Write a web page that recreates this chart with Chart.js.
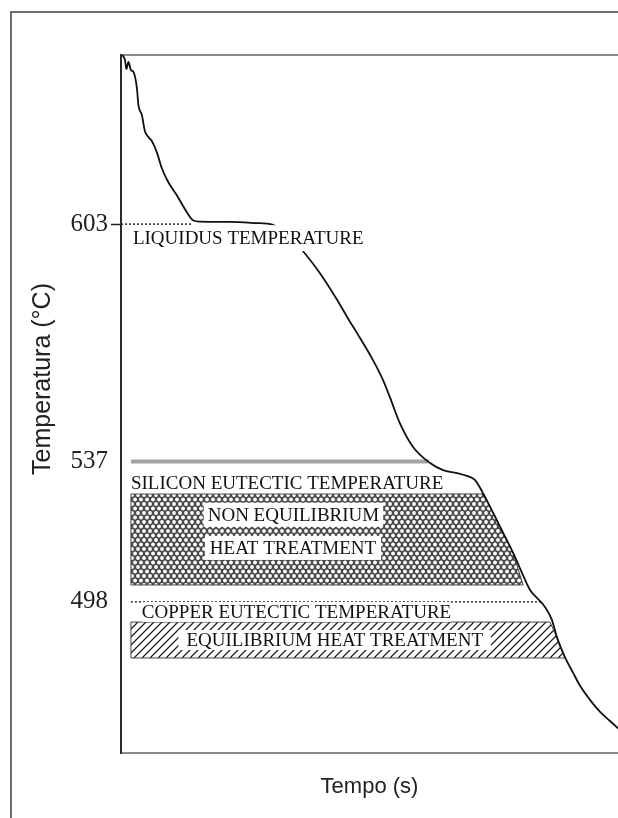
<!DOCTYPE html>
<html>
<head>
<meta charset="utf-8">
<script src="https://cdn.jsdelivr.net/npm/chart.js@4.4.1/dist/chart.umd.min.js"></script>
<style>
  html, body { margin: 0; padding: 0; background: #fff; overflow: hidden; }
  .moldura { position: absolute; left: 10px; top: 11px; width: 700px; height: 900px;
             border-left: 2px solid #6e6e6e; border-top: 2px solid #6e6e6e; }
  .grafico { position: absolute; left: 0; top: 0; width: 618px; height: 818px; }
</style>
</head>
<body>
<div class="moldura"></div>
<div class="grafico"><canvas id="curvaResfriamento"></canvas></div>
<script>
// Curva de resfriamento (tempo em unidades arbitrárias, temperatura em °C)
const tempo = [0.3, 0.8, 1.1, 1.5, 2.0, 2.5, 3.2, 3.5, 4.2, 4.8, 5.5, 6.2, 7.2, 8.2, 9.5, 11.2, 13.2, 14.5, 15.9,
  21.9, 27.0, 30.6, 33.0, 35.0, 36.4, 40.0, 43.5, 46.1, 47.5, 50.7, 52.7, 54.1, 56.1, 58.8, 62.2, 64.8, 67.6,
  69.6, 71.2, 72.8, 74.9, 76.9, 78.9, 80.7, 82.3, 83.7, 85.3, 86.7, 87.7, 89.3, 91.0, 92.4, 94.4, 96.4, 98.4, 100.4];
const temperatura = [650.0, 648.6, 646.1, 648.1, 645.8, 645.3, 640.8, 636.1, 633.3, 628.9, 627.2, 626.1, 623.0, 618.6,
  614.7, 611.1, 606.4, 604.1, 603.7, 603.6, 603.3, 602.8, 600.5, 597.7, 595.8, 589.4, 581.9, 575.8, 572.7, 565.2,
  559.7, 554.9, 547.7, 541.0, 536.6, 534.6, 533.8, 533.0, 531.9, 528.3, 522.7, 517.2, 511.6, 506.0, 501.3, 499.1,
  496.6, 493.0, 488.2, 482.7, 478.2, 474.6, 470.7, 467.4, 464.9, 462.4];

// Temperaturas marcadas no eixo
const yTicks = [498, 537, 603];

// Linhas de referência: liquidus, eutético do silício, eutético do cobre
const nivelTemp = [603, 537, 498];
const nivelInicio = [0, 2.0, 2.0];
const nivelFim = [14.3, 61.9, 84.4];

// Faixa de tratamento fora do equilíbrio (entre os eutéticos)
const naoEqTempo = [2.0, 73.0, 76.3, 78.9, 80.9, 2.0, 2.0];
const naoEqTemp = [528.0, 528.0, 518.8, 511.6, 502.7, 502.7, 528.0];

// Faixa de tratamento de equilíbrio (abaixo do eutético do cobre)
const eqTempo = [2.0, 86.3, 87.7, 89.3, 2.0, 2.0];
const eqTemp = [492.4, 492.4, 488.2, 482.4, 482.4, 492.4];

// Textos dentro do gráfico
const rotulos = [
  { texto: 'LIQUIDUS TEMPERATURE', t: 2.4, temp: 599.1, alinha: 'left', padX: 2, padY: 3 },
  { texto: 'SILICON EUTECTIC TEMPERATURE', t: 2.0, temp: 531.0, alinha: 'left', padX: 0, padY: 0 },
  { texto: 'NON EQUILIBRIUM', t: 34.7, temp: 522.2, alinha: 'center', padX: 4, padY: 2 },
  { texto: 'HEAT TREATMENT', t: 34.6, temp: 513.0, alinha: 'center', padX: 5, padY: 2 },
  { texto: 'COPPER EUTECTIC TEMPERATURE', t: 4.2, temp: 495.2, alinha: 'left', padX: 0, padY: 0 },
  { texto: 'EQUILIBRIUM HEAT TREATMENT', t: 43.0, temp: 487.4, alinha: 'center', padX: 8, padY: 0 }
];

function pontos(xs, ys) {
  return xs.map(function (x, i) { return { x: x, y: ys[i] }; });
}

function linhaNivel(i) {
  return [{ x: nivelInicio[i], y: nivelTemp[i] }, { x: nivelFim[i], y: nivelTemp[i] }];
}

// Padrão de malha (fundo cinza com pontos brancos alternados)
function padraoMalha() {
  const c = document.createElement('canvas');
  c.width = 6; c.height = 9;
  const g = c.getContext('2d');
  g.fillStyle = '#4a4a4a';
  g.fillRect(0, 0, 6, 9);
  g.fillStyle = '#fff';
  [[3, 4.5], [0, 0], [6, 0], [0, 9], [6, 9]].forEach(function (p) {
    g.beginPath();
    g.arc(p[0], p[1], 1.9, 0, Math.PI * 2);
    g.fill();
  });
  return g.createPattern(c, 'repeat');
}

// Padrão de hachura diagonal
function padraoHachura() {
  const c = document.createElement('canvas');
  c.width = 8; c.height = 8;
  const g = c.getContext('2d');
  g.fillStyle = '#fff';
  g.fillRect(0, 0, 8, 8);
  g.strokeStyle = '#222';
  g.lineWidth = 1.3;
  g.beginPath();
  g.moveTo(0, 8); g.lineTo(8, 0);
  g.moveTo(-2, 2); g.lineTo(2, -2);
  g.moveTo(6, 10); g.lineTo(10, 6);
  g.stroke();
  return g.createPattern(c, 'repeat');
}

// Escreve os textos com fundo branco e o título do eixo y
const notas = {
  id: 'notas',
  afterDatasetsDraw: function (chart) {
    const ctx = chart.ctx;
    const x = chart.scales.x;
    const y = chart.scales.y;
    ctx.save();
    ctx.font = '19px "Liberation Serif"';
    ctx.textBaseline = 'middle';
    ctx.textAlign = 'left';
    rotulos.forEach(function (r) {
      const w = ctx.measureText(r.texto).width;
      let px = x.getPixelForValue(r.t);
      if (r.alinha === 'center') px -= w / 2;
      const py = y.getPixelForValue(r.temp);
      ctx.fillStyle = '#fff';
      ctx.fillRect(px - r.padX, py - 10 - r.padY, w + 2 * r.padX, 20 + 2 * r.padY);
      ctx.fillStyle = '#111';
      ctx.fillText(r.texto, px, py + 1);
    });

    ctx.translate(43, 379);
    ctx.rotate(-Math.PI / 2);
    ctx.font = '25px "Liberation Sans"';
    ctx.textAlign = 'center';
    ctx.fillStyle = '#222';
    ctx.fillText('Temperatura (°C)', 0, 0);
    ctx.restore();
  }
};

const ctx = document.getElementById('curvaResfriamento').getContext('2d');

const grafico = new Chart(ctx, {
  type: 'line',
  data: {
    datasets: [{
      label: 'Curva de resfriamento',
      data: pontos(tempo, temperatura),
      borderColor: '#111',
      borderWidth: 1.8,
      pointRadius: 0,
      cubicInterpolationMode: 'monotone',
      fill: false
    }, {
      label: 'Liquidus',
      data: linhaNivel(0),
      borderColor: '#222',
      borderWidth: 1.5,
      borderDash: [2, 2],
      pointRadius: 0,
      fill: false
    }, {
      label: 'Eutético do silício',
      data: linhaNivel(1),
      borderColor: '#a3a3a3',
      borderWidth: 4,
      pointRadius: 0,
      fill: false
    }, {
      label: 'Eutético do cobre',
      data: linhaNivel(2),
      borderColor: '#333',
      borderWidth: 1.5,
      borderDash: [2, 2],
      pointRadius: 0,
      fill: false
    }, {
      label: 'Tratamento fora do equilíbrio',
      data: pontos(naoEqTempo, naoEqTemp),
      borderColor: '#444',
      borderWidth: 1,
      backgroundColor: padraoMalha(),
      pointRadius: 0,
      tension: 0,
      fill: 'shape'
    }, {
      label: 'Tratamento de equilíbrio',
      data: pontos(eqTempo, eqTemp),
      borderColor: '#444',
      borderWidth: 1,
      backgroundColor: padraoHachura(),
      pointRadius: 0,
      tension: 0,
      fill: 'shape'
    }]
  },
  options: {
    responsive: true,
    maintainAspectRatio: false,
    animation: false,
    layout: { padding: { top: 55, left: 0, right: 0, bottom: 0 } },
    plugins: {
      legend: { display: false },
      tooltip: { enabled: false }
    },
    scales: {
      x: {
        type: 'linear',
        position: 'bottom',
        min: 0,
        max: 100,
        ticks: { display: false },
        grid: { display: false },
        border: { color: '#8a8a8a', width: 2 },
        title: {
          display: true,
          text: 'Tempo (s)',
          color: '#222',
          font: { family: 'Liberation Sans', size: 22 },
          padding: { top: 0, bottom: 18 }
        },
        afterFit: function (s) { s.height = 65; }
      },
      topo: {
        type: 'linear',
        position: 'top',
        min: 0,
        max: 100,
        ticks: { display: false },
        grid: { display: false },
        border: { color: '#8a8a8a', width: 2 },
        afterFit: function (s) { s.height = 0; }
      },
      y: {
        type: 'linear',
        position: 'left',
        min: 456,
        max: 650,
        afterBuildTicks: function (s) {
          s.ticks = yTicks.map(function (v) { return { value: v }; });
        },
        ticks: {
          color: '#222',
          padding: 3,
          font: { family: 'Liberation Serif', size: 25 },
          callback: function (v) { return String(v); }
        },
        grid: {
          drawOnChartArea: false,
          drawTicks: true,
          tickLength: 10,
          tickWidth: 1.5,
          tickColor: function (c) {
            return c.tick && c.tick.value === 603 ? '#222' : 'rgba(0,0,0,0)';
          }
        },
        border: { color: '#2a2a2a', width: 2 },
        afterFit: function (s) { s.width = 121; }
      }
    }
  },
  plugins: [notas]
});
</script>
</body>
</html>
